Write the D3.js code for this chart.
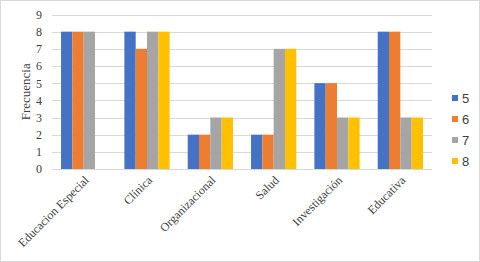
<!DOCTYPE html>
<html>
<head>
<meta charset="utf-8">
<script src="https://cdn.jsdelivr.net/npm/d3@7"></script>
<style>
  body { margin: 0; background: #fff; }
  svg { display: block; }
</style>
</head>
<body>
<div id="chart"></div>
<script>
const categories = ["Educacion Especial", "Clínica", "Organizacional", "Salud", "Investigación", "Educativa"];
const seriesNames = ["5", "6", "7", "8"];
const values5 = [8, 8, 2, 2, 5, 8];
const values6 = [8, 7, 2, 2, 5, 8];
const values7 = [8, 8, 3, 7, 3, 3];
const values8 = [null, 8, 3, 7, 3, 3];
const yTicks = [0, 1, 2, 3, 4, 5, 6, 7, 8, 9];
const colors = ["#4472C4", "#ED7D31", "#A5A5A5", "#FFC000"];

const series = [values5, values6, values7, values8];

const width = 480;
const height = 262;
const margin = { top: 14.5, right: 48, bottom: 93, left: 52 };

const svg = d3.select("#chart")
  .append("svg")
  .attr("width", width)
  .attr("height", height);

svg.append("rect")
  .attr("x", 0.5).attr("y", 0.5)
  .attr("width", width - 1).attr("height", height - 1)
  .attr("fill", "#fff")
  .attr("stroke", "#d9d9d9");

const x0 = d3.scaleBand()
  .domain(categories)
  .range([margin.left, width - margin.right]);

const x1 = d3.scaleBand()
  .domain(seriesNames)
  .range([0, x0.bandwidth()])
  .paddingOuter(0.8);

const y = d3.scaleLinear()
  .domain([0, 9])
  .range([height - margin.bottom, margin.top]);

// gridlines
svg.append("g")
  .selectAll("line")
  .data(yTicks)
  .join("line")
  .attr("x1", margin.left)
  .attr("x2", width - margin.right)
  .attr("y1", d => Math.round(y(d)) + 0.5)
  .attr("y2", d => Math.round(y(d)) + 0.5)
  .attr("stroke", "#d9d9d9");

// bars
const groups = svg.append("g")
  .selectAll("g")
  .data(categories)
  .join("g")
  .attr("transform", d => `translate(${x0(d)},0)`);

groups.selectAll("rect")
  .data((d, i) => seriesNames.map((s, j) => ({ key: s, value: series[j][i], color: colors[j] })))
  .join("rect")
  .filter(d => d.value != null)
  .attr("x", d => x1(d.key))
  .attr("width", x1.bandwidth())
  .attr("y", d => y(d.value))
  .attr("height", d => y(0) - y(d.value))
  .attr("fill", d => d.color);

// y axis
const yAxis = svg.append("g")
  .attr("transform", `translate(${margin.left - 10},0)`)
  .call(d3.axisLeft(y).tickValues(yTicks).tickSize(0).tickPadding(0));
yAxis.select(".domain").remove();
yAxis.selectAll("text")
  .attr("font-family", "Liberation Serif, serif")
  .attr("font-size", 12)
  .attr("fill", "#404040");

// x labels
svg.append("g")
  .selectAll("text")
  .data(categories)
  .join("text")
  .attr("transform", d => `translate(${x0(d) + x0.bandwidth() / 2 + 3},${y(0) + 9}) rotate(-45)`)
  .attr("text-anchor", "end")
  .attr("dy", "0.35em")
  .attr("font-family", "Liberation Serif, serif")
  .attr("font-size", 12)
  .attr("fill", "#404040")
  .text(d => d);

// y title
svg.append("text")
  .attr("transform", `translate(25,${(margin.top + y(0)) / 2}) rotate(-90)`)
  .attr("text-anchor", "middle")
  .attr("dy", "0.35em")
  .attr("font-family", "Liberation Serif, serif")
  .attr("font-size", 13)
  .attr("fill", "#404040")
  .text("Frecuencia");

// legend
const legend = svg.append("g")
  .selectAll("g")
  .data(seriesNames)
  .join("g")
  .attr("transform", (d, i) => `translate(452,${98 + i * 21})`);

legend.append("rect")
  .attr("x", 0).attr("y", -3)
  .attr("width", 6).attr("height", 6)
  .attr("fill", (d, i) => colors[i]);

legend.append("text")
  .attr("x", 10)
  .attr("dy", "0.35em")
  .attr("font-family", "Liberation Sans, sans-serif")
  .attr("font-size", 13)
  .attr("fill", "#404040")
  .text(d => d);
</script>
</body>
</html>
